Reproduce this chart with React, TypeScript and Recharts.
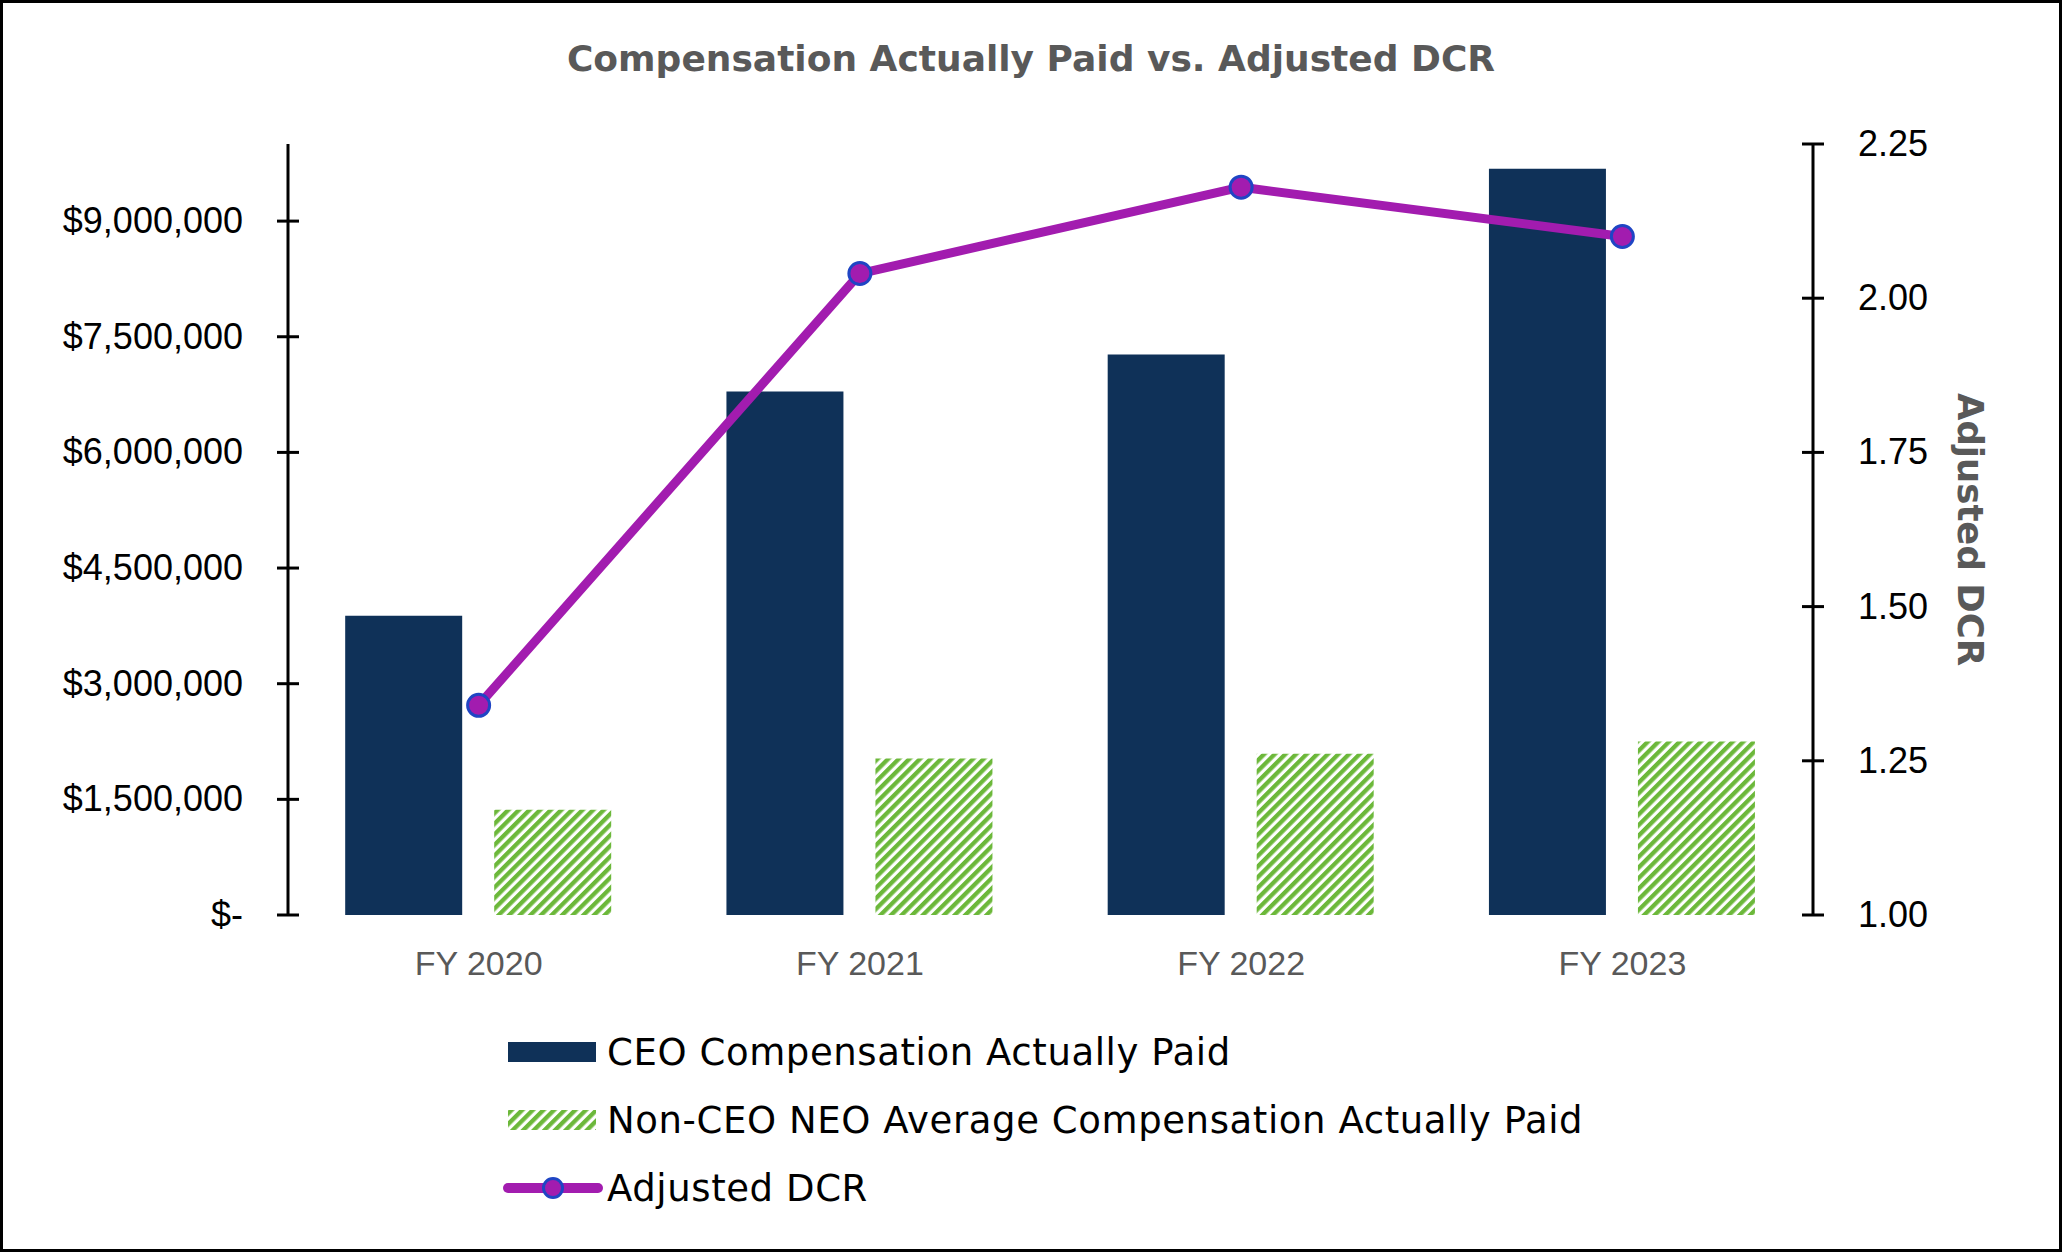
import { ComposedChart, Bar, Line, XAxis, YAxis } from "recharts"

const years = ["FY 2020", "FY 2021", "FY 2022", "FY 2023"]
const ceoPaid = [3880000, 6790000, 7270000, 9680000]
const neoAvgPaid = [1366000, 2030000, 2090000, 2250000]
const adjustedDcr = [1.34, 2.04, 2.18, 2.1]

const dollarTicks = [0, 1500000, 3000000, 4500000, 6000000, 7500000, 9000000]
const dcrTicks = [1, 1.25, 1.5, 1.75, 2, 2.25]

const NAVY = "#0F3158"
const GREEN = "#6CB83A"
const PURPLE = "#A21CAF"
const BLUE = "#1F45C4"
const GRAY = "#595959"
const NUM_FONT = "'Liberation Sans', Arial, sans-serif"
const TEXT_FONT = "'DejaVu Sans', sans-serif"

const data = years.map((year, i) => ({
  year,
  ceo: ceoPaid[i],
  neo: neoAvgPaid[i],
  dcr: adjustedDcr[i],
}))

const fmtDollar = (v: number) => (v === 0 ? "$-" : "$" + v.toLocaleString("en-US"))

function LeftTick(props: any) {
  const { x, y, payload } = props
  return (
    <g>
      <line x1={x - 11} x2={x + 11} y1={y} y2={y} stroke="#000" strokeWidth={3} />
      <text x={x - 45} y={y} dy={12} textAnchor="end" fontSize={36} fontFamily={NUM_FONT} fill="#000">
        {fmtDollar(payload.value)}
      </text>
    </g>
  )
}

function RightTick(props: any) {
  const { x, y, payload } = props
  return (
    <g>
      <line x1={x - 11} x2={x + 11} y1={y} y2={y} stroke="#000" strokeWidth={3} />
      <text x={x + 45} y={y} dy={12} textAnchor="start" fontSize={36} fontFamily={NUM_FONT} fill="#000">
        {payload.value.toFixed(2)}
      </text>
    </g>
  )
}

function YearTick(props: any) {
  const { x, y, payload } = props
  return (
    <text x={x} y={y + 60} textAnchor="middle" fontSize={34} fontFamily={NUM_FONT} fill={GRAY}>
      {payload.value}
    </text>
  )
}

function DcrTitle(props: any) {
  const { x, y, height } = props.viewBox
  const cx = x + 157
  const cy = y + height / 2
  return (
    <text
      x={cx}
      y={cy}
      transform={`rotate(90, ${cx}, ${cy})`}
      textAnchor="middle"
      dominantBaseline="central"
      fontSize={35.5}
      fontWeight="bold"
      fontFamily={TEXT_FONT}
      fill={GRAY}
    >
      Adjusted DCR
    </text>
  )
}

const legendRows = [
  { label: "CEO Compensation Actually Paid", kind: "navy" },
  { label: "Non-CEO NEO Average Compensation Actually Paid", kind: "hatch" },
  { label: "Adjusted DCR", kind: "line" },
]

function Swatch({ kind }: { kind: string }) {
  return (
    <svg width={100} height={30} style={{ display: "block" }}>
      {kind === "navy" && <rect x={5} y={5} width={88} height={20} fill={NAVY} />}
      {kind === "hatch" && <rect x={5} y={5} width={88} height={20} fill="url(#hatch)" />}
      {kind === "line" && (
        <g>
          <line x1={5} x2={95} y1={15} y2={15} stroke={PURPLE} strokeWidth={10} strokeLinecap="round" />
          <circle cx={50} cy={15} r={9.5} fill={PURPLE} stroke={BLUE} strokeWidth={3} />
        </g>
      )}
    </svg>
  )
}

export default function App() {
  return (
    <div style={{ position: "relative", width: 2062, height: 1252, background: "#fff", overflow: "hidden" }}>
      <style>{`body{margin:0}`}</style>
      <svg width={0} height={0} style={{ position: "absolute" }}>
        <defs>
          <pattern id="hatch" patternUnits="userSpaceOnUse" width={7.5} height={7.5} patternTransform="rotate(45)">
            <rect x={0} y={0} width={7.5} height={7.5} fill="#fff" />
            <rect x={0} y={0} width={4.3} height={7.5} fill={GREEN} />
          </pattern>
        </defs>
      </svg>

      <div
        style={{
          position: "absolute",
          left: 0,
          top: 38,
          width: 2062,
          textAlign: "center",
          fontFamily: TEXT_FONT,
          fontWeight: "bold",
          fontSize: 36,
          color: GRAY,
        }}
      >
        Compensation Actually Paid vs. Adjusted DCR
      </div>

      <ComposedChart
        width={2062}
        height={1252}
        data={data}
        margin={{ top: 144, right: 0, bottom: 297, left: 0 }}
        barCategoryGap="15%"
        barGap={32}
      >
        <XAxis dataKey="year" axisLine={false} tickLine={false} tickSize={0} tickMargin={0} height={40} tick={YearTick} />
        <YAxis
          yAxisId="left"
          width={288}
          domain={[0, 10000000]}
          ticks={dollarTicks}
          interval={0}
          axisLine={{ stroke: "#000", strokeWidth: 3 }}
          tickLine={false}
          tickSize={0}
          tickMargin={0}
          tick={LeftTick}
        />
        <YAxis
          yAxisId="right"
          orientation="right"
          width={249}
          domain={[1, 2.25]}
          ticks={dcrTicks}
          interval={0}
          axisLine={{ stroke: "#000", strokeWidth: 3 }}
          tickLine={false}
          tickSize={0}
          tickMargin={0}
          tick={RightTick}
          label={{ value: "Adjusted DCR", content: DcrTitle }}
        />
        <Bar yAxisId="left" dataKey="ceo" name="CEO Compensation Actually Paid" fill={NAVY} isAnimationActive={false} />
        <Bar
          yAxisId="left"
          dataKey="neo"
          name="Non-CEO NEO Average Compensation Actually Paid"
          fill="url(#hatch)"
          isAnimationActive={false}
        />
        <Line
          yAxisId="right"
          dataKey="dcr"
          name="Adjusted DCR"
          stroke={PURPLE}
          strokeWidth={9}
          dot={{ r: 11, fill: PURPLE, stroke: BLUE, strokeWidth: 3 }}
          isAnimationActive={false}
        />
      </ComposedChart>

      <div
        style={{
          position: "absolute",
          left: 503,
          top: 1018,
          fontFamily: TEXT_FONT,
          fontSize: 37,
          letterSpacing: 0.6,
          color: "#000",
        }}
      >
        {legendRows.map((row) => (
          <div key={row.label} style={{ display: "flex", alignItems: "center", height: 68 }}>
            <Swatch kind={row.kind} />
            <span style={{ marginLeft: 4, whiteSpace: "nowrap" }}>{row.label}</span>
          </div>
        ))}
      </div>

      <div
        style={{
          position: "absolute",
          inset: 0,
          border: "3px solid #000",
          boxSizing: "border-box",
          pointerEvents: "none",
        }}
      />
    </div>
  )
}
